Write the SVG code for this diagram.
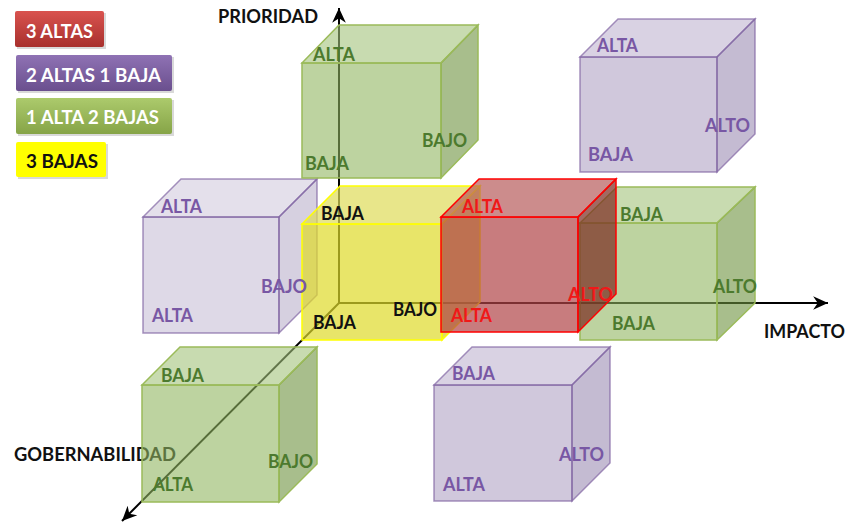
<svg xmlns="http://www.w3.org/2000/svg" width="849" height="523" viewBox="0 0 849 523">
<style>
text{font-family:Lato,"Liberation Sans",sans-serif;font-weight:bold;font-size:18.5px}
.lp{fill:#7857a4}.lg{fill:#4c7a2e}.lr{fill:#f01818}.lk{fill:#111}.lw{fill:#fff}
.ax{stroke:#000;stroke-width:2;fill:none}
.pu .f{fill:#a191b9;fill-opacity:.5}.pu .t{fill:#b3a5c7;fill-opacity:.5}.pu .r{fill:#8977a5;fill-opacity:.5}
.pu *{stroke:#8064a2;stroke-opacity:.7;stroke-width:1.5}
.pl .f{fill-opacity:.35}.pl .t{fill-opacity:.35}.pl .r{fill-opacity:.35}
.gr .f{fill:#91b661;fill-opacity:.6}.gr .t{fill:#a3c37b;fill-opacity:.6}.gr .r{fill:#6e933f;fill-opacity:.6}
.gr *{stroke:#9bbb59;stroke-width:1.5}
.ye .f{fill:#deda2a;fill-opacity:.7}.ye .t{fill:#dedb58;fill-opacity:.7}.ye .r{fill:#cfcc2a;fill-opacity:.7}
.ye *{stroke:#ffff00;stroke-width:1.5}
.re .f{fill:#b04547;fill-opacity:.7}.re .t{fill:#b65b5b;fill-opacity:.7}.re .r{fill:#7a2a20;fill-opacity:.7}
.re *{stroke:#ff0000;stroke-width:1.5}
</style>
<defs>
<linearGradient id="gR" x1="0" y1="0" x2="0" y2="1"><stop offset="0" stop-color="#d9534f"/><stop offset="1" stop-color="#a8302d"/></linearGradient>
<linearGradient id="gP" x1="0" y1="0" x2="0" y2="1"><stop offset="0" stop-color="#8f72b4"/><stop offset="1" stop-color="#6a4f8e"/></linearGradient>
<linearGradient id="gG" x1="0" y1="0" x2="0" y2="1"><stop offset="0" stop-color="#acca6c"/><stop offset="1" stop-color="#86a447"/></linearGradient>
<marker id="arr" markerUnits="userSpaceOnUse" markerWidth="16" markerHeight="16" refX="13" refY="6" orient="auto" viewBox="0 0 14 12">
<path d="M0,0 L13,6 L0,12 L4,6 z" fill="#000"/>
</marker>
</defs>
<rect width="849" height="523" fill="#fff"/>

<g id="legend">
<rect x="17" y="13" width="89" height="36" fill="#000" opacity=".15"/>
<rect x="15" y="11" width="89" height="36" rx="2" fill="url(#gR)"/>
<text class="lw" x="26" y="38" textLength="67" lengthAdjust="spacingAndGlyphs">3 ALTAS</text>
<rect x="18" y="57" width="156" height="36" fill="#000" opacity=".15"/>
<rect x="16" y="55" width="156" height="36" rx="2" fill="url(#gP)"/>
<text class="lw" x="26" y="82" textLength="135" lengthAdjust="spacingAndGlyphs">2 ALTAS 1 BAJA</text>
<rect x="18" y="100" width="156" height="36" fill="#000" opacity=".15"/>
<rect x="16" y="98" width="156" height="36" rx="2" fill="url(#gG)"/>
<text class="lw" x="26" y="124" textLength="133" lengthAdjust="spacingAndGlyphs">1 ALTA 2 BAJAS</text>
<rect x="18" y="144" width="90" height="35" fill="#000" opacity=".15"/>
<rect x="16" y="142" width="90" height="35" rx="2" fill="#ffff00"/>
<text class="lk" x="26" y="168" textLength="72" lengthAdjust="spacingAndGlyphs">3 BAJAS</text>
</g>

<g id="axes">
<line class="ax" x1="339" y1="303" x2="339" y2="8" marker-end="url(#arr)"/>
<line class="ax" x1="339" y1="303" x2="828" y2="303" marker-end="url(#arr)"/>
<line class="ax" x1="339" y1="303" x2="122" y2="521" marker-end="url(#arr)"/>
</g>
<g id="axis-labels">
<text class="lk" x="218" y="23" textLength="100" lengthAdjust="spacingAndGlyphs">PRIORIDAD</text>
<text class="lk" x="764" y="338" textLength="81" lengthAdjust="spacingAndGlyphs">IMPACTO</text>
<text class="lk" x="14" y="461" textLength="162" lengthAdjust="spacingAndGlyphs">GOBERNABILIDAD</text>
</g>

<g id="cube-purple-tl" class="pu pl">
<rect class="f" x="143" y="217" width="136" height="116"/>
<polygon class="t" points="143,217 181,179 317,179 279,217"/>
<polygon class="r" points="279,217 317,179 317,295 279,333"/>
</g>
<g id="cube-green-top" class="gr">
<rect class="f" x="302" y="63" width="139" height="115"/>
<polygon class="t" points="302,63 339,25 478,25 441,63"/>
<polygon class="r" points="441,63 478,25 478,140 441,178"/>
</g>
<g id="cube-yellow" class="ye">
<rect class="f" x="302" y="224" width="140" height="116"/>
<polygon class="t" points="302,224 340,186 480,186 442,224"/>
<polygon class="r" points="442,224 480,186 480,302 442,340"/>
</g>
<g id="cube-green-right" class="gr">
<rect class="f" x="580" y="223" width="137" height="117"/>
<polygon class="t" points="580,223 617,187 755,187 717,223"/>
<polygon class="r" points="717,223 755,187 755,303 717,340"/>
</g>
<g id="cube-red" class="re">
<rect class="f" x="441" y="217" width="137" height="115"/>
<polygon class="t" points="441,217 479,179 616,179 578,217"/>
<polygon class="r" points="578,217 616,179 616,294 578,332"/>
</g>
<g id="cube-purple-tr" class="pu">
<rect class="f" x="580" y="57" width="137" height="115"/>
<polygon class="t" points="580,57 618,19 755,19 717,57"/>
<polygon class="r" points="717,57 755,19 755,134 717,172"/>
</g>
<g id="cube-green-bl" class="gr">
<rect class="f" x="142" y="385" width="137" height="117"/>
<polygon class="t" points="142,385 180,347 317,347 279,385"/>
<polygon class="r" points="279,385 317,347 317,464 279,502"/>
</g>
<g id="cube-purple-bottom" class="pu">
<rect class="f" x="434" y="385" width="138" height="116"/>
<polygon class="t" points="434,385 472,347 610,347 572,385"/>
<polygon class="r" points="572,385 610,347 610,463 572,501"/>
</g>

<g id="labels">
<text class="lp" x="161" y="213" textLength="41" lengthAdjust="spacingAndGlyphs">ALTA</text>
<text class="lp" x="261" y="293" textLength="46" lengthAdjust="spacingAndGlyphs">BAJO</text>
<text class="lp" x="152" y="322" textLength="41" lengthAdjust="spacingAndGlyphs">ALTA</text>

<text class="lg" x="313" y="61" textLength="42" lengthAdjust="spacingAndGlyphs">ALTA</text>
<text class="lg" x="422" y="147" textLength="45" lengthAdjust="spacingAndGlyphs">BAJO</text>
<text class="lg" x="305" y="170" textLength="44" lengthAdjust="spacingAndGlyphs">BAJA</text>

<text class="lk" x="321" y="220" textLength="43" lengthAdjust="spacingAndGlyphs">BAJA</text>
<text class="lk" x="393" y="316" textLength="44" lengthAdjust="spacingAndGlyphs">BAJO</text>
<text class="lk" x="313" y="329" textLength="43" lengthAdjust="spacingAndGlyphs">BAJA</text>

<text class="lr" x="462" y="213" textLength="41" lengthAdjust="spacingAndGlyphs">ALTA</text>
<text class="lr" x="568" y="301" textLength="45" lengthAdjust="spacingAndGlyphs">ALTO</text>
<text class="lr" x="451" y="322" textLength="41" lengthAdjust="spacingAndGlyphs">ALTA</text>

<text class="lp" x="597" y="52" textLength="41" lengthAdjust="spacingAndGlyphs">ALTA</text>
<text class="lp" x="705" y="132" textLength="45" lengthAdjust="spacingAndGlyphs">ALTO</text>
<text class="lp" x="588" y="161" textLength="45" lengthAdjust="spacingAndGlyphs">BAJA</text>

<text class="lg" x="620" y="221" textLength="43" lengthAdjust="spacingAndGlyphs">BAJA</text>
<text class="lg" x="713" y="293" textLength="44" lengthAdjust="spacingAndGlyphs">ALTO</text>
<text class="lg" x="612" y="330" textLength="43" lengthAdjust="spacingAndGlyphs">BAJA</text>

<text class="lg" x="161" y="382" textLength="43" lengthAdjust="spacingAndGlyphs">BAJA</text>
<text class="lg" x="268" y="468" textLength="45" lengthAdjust="spacingAndGlyphs">BAJO</text>
<text class="lg" x="153" y="491" textLength="40" lengthAdjust="spacingAndGlyphs">ALTA</text>

<text class="lp" x="452" y="380" textLength="43" lengthAdjust="spacingAndGlyphs">BAJA</text>
<text class="lp" x="559" y="461" textLength="45" lengthAdjust="spacingAndGlyphs">ALTO</text>
<text class="lp" x="443" y="491" textLength="42" lengthAdjust="spacingAndGlyphs">ALTA</text>
</g>
</svg>
